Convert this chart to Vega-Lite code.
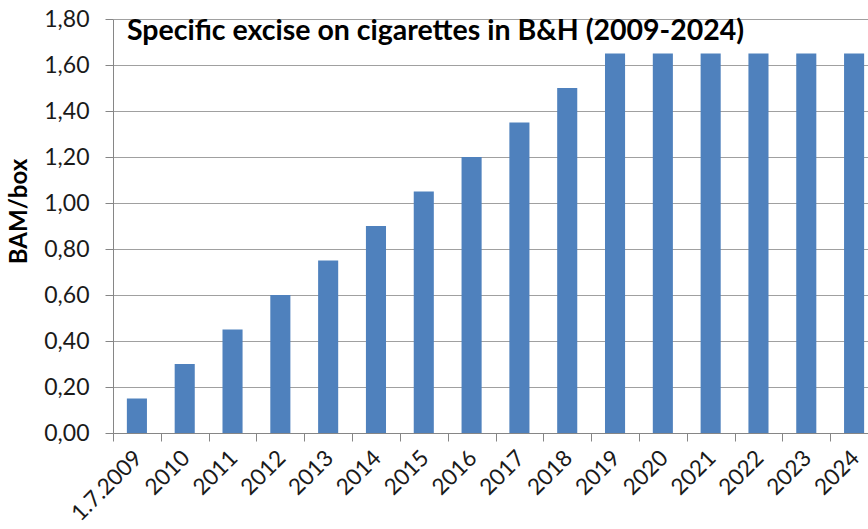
{
  "$schema": "https://vega.github.io/schema/vega-lite/v6.json",
  "autosize": {"type": "none"},
  "width": 765,
  "height": 414,
  "padding": {"left": 113, "top": 19, "right": 0, "bottom": 96},
  "background": "white",
  "title": {
    "text": "Specific excise on cigarettes in B&H (2009-2024)",
    "orient": "top",
    "anchor": "start",
    "frame": "group",
    "font": "Lato",
    "fontSize": 28.5,
    "fontWeight": "bold",
    "color": "#000000",
    "baseline": "top",
    "offset": 0,
    "dx": 14,
    "dy": 37,
    "limit": 0
  },
  "data": {
    "values": [
      {"year": "1.7.2009", "excise": 0.15},
      {"year": "2010", "excise": 0.30},
      {"year": "2011", "excise": 0.45},
      {"year": "2012", "excise": 0.60},
      {"year": "2013", "excise": 0.75},
      {"year": "2014", "excise": 0.90},
      {"year": "2015", "excise": 1.05},
      {"year": "2016", "excise": 1.20},
      {"year": "2017", "excise": 1.35},
      {"year": "2018", "excise": 1.50},
      {"year": "2019", "excise": 1.65},
      {"year": "2020", "excise": 1.65},
      {"year": "2021", "excise": 1.65},
      {"year": "2022", "excise": 1.65},
      {"year": "2023", "excise": 1.65},
      {"year": "2024", "excise": 1.65}
    ]
  },
  "mark": {"type": "bar", "color": "#4F81BD"},
  "encoding": {
    "x": {
      "field": "year",
      "type": "nominal",
      "sort": null,
      "scale": {"paddingInner": 0.58, "paddingOuter": 0.29},
      "axis": {
        "title": null,
        "labelAngle": -45,
        "labelAlign": "right",
        "labelBaseline": "middle",
        "labelFont": "Lato",
        "labelFontSize": 22.5,
        "labelColor": "#1a1a1a",
        "labelPadding": 13,
        "tickOffset": -23.9,
        "labelOffset": 25,
        "tickSize": 8,
        "tickColor": "#868686",
        "domainColor": "#868686",
        "labelOverlap": false,
        "grid": false
      }
    },
    "y": {
      "field": "excise",
      "type": "quantitative",
      "scale": {"domain": [0, 1.8], "nice": false},
      "axis": {
        "title": "BAM/box",
        "titleFont": "Lato",
        "titleFontSize": 24,
        "titleFontWeight": "bold",
        "titleColor": "#000000",
        "titlePadding": 12,
        "titleY": 192,
        "values": [0, 0.2, 0.4, 0.6, 0.8, 1.0, 1.2, 1.4, 1.6, 1.8],
        "labelExpr": "replace(format(datum.value, '.2f'), '.', ',')",
        "labelFont": "Lato",
        "labelFontSize": 23,
        "labelColor": "#1a1a1a",
        "labelPadding": 16,
        "tickSize": 8,
        "tickColor": "#868686",
        "domainColor": "#868686",
        "gridColor": "#a0a0a0",
        "gridOpacity": 1
      }
    }
  },
  "config": {"view": {"stroke": null}}
}
